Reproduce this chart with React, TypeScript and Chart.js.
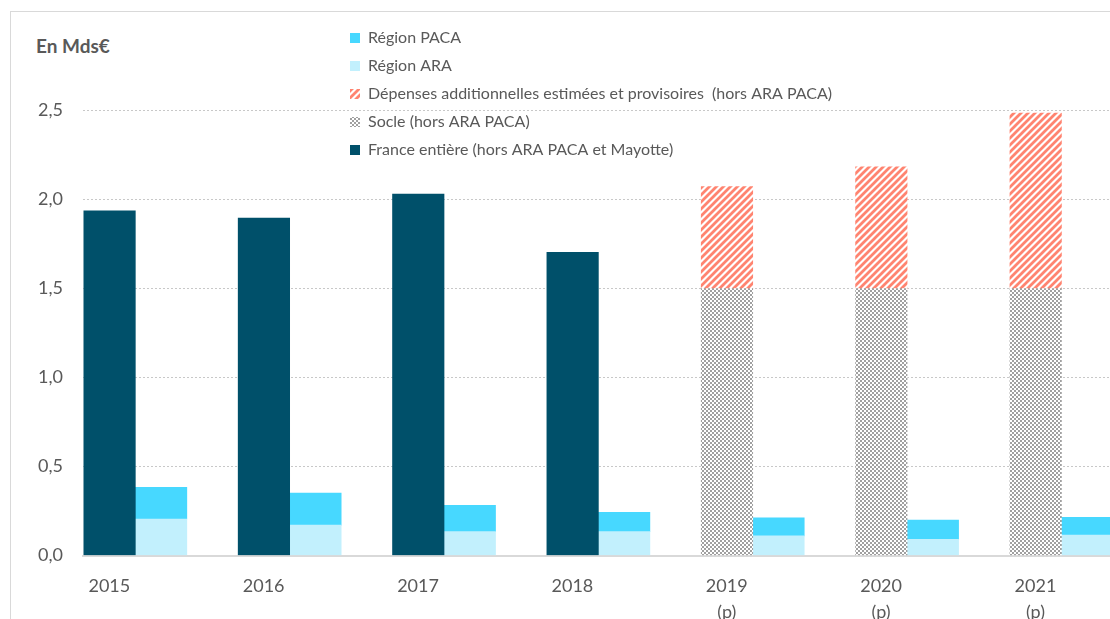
import React, { useEffect, useRef } from 'react';
import { Chart, registerables } from 'chart.js';

Chart.register(...registerables);

const years = ['2015', '2016', '2017', '2018', '2019', '2020', '2021'];
const yearNotes = ['', '', '', '', '(p)', '(p)', '(p)'];
const franceEntiere = [1.937, 1.896, 2.031, 1.703, null, null, null];
const socle = [null, null, null, null, 1.5, 1.5, 1.5];
const depensesAdditionnelles = [null, null, null, null, 0.572, 0.683, 0.986];
const regionARA = [0.205, 0.171, 0.134, 0.134, 0.11, 0.091, 0.115];
const regionPACA = [0.178, 0.18, 0.148, 0.109, 0.102, 0.108, 0.1];
const yTickValues = [0, 0.5, 1, 1.5, 2, 2.5];

const TEXT = '#595959';
const FONT = 'Lato, "Open Sans", sans-serif';

function stripePattern(): CanvasPattern | string {
  const s = 7;
  const c = document.createElement('canvas');
  c.width = s;
  c.height = s;
  const ctx = c.getContext('2d');
  if (!ctx) return '#ff8c7a';
  ctx.fillStyle = '#ffffff';
  ctx.fillRect(0, 0, s, s);
  ctx.strokeStyle = '#ff8470';
  ctx.lineWidth = 2.8;
  ctx.beginPath();
  ctx.moveTo(-2, 2);
  ctx.lineTo(2, -2);
  ctx.moveTo(0, s);
  ctx.lineTo(s, 0);
  ctx.moveTo(s - 2, s + 2);
  ctx.lineTo(s + 2, s - 2);
  ctx.stroke();
  return ctx.createPattern(c, 'repeat') || '#ff8c7a';
}

function checkerPattern(): CanvasPattern | string {
  const s = 4;
  const c = document.createElement('canvas');
  c.width = s;
  c.height = s;
  const ctx = c.getContext('2d');
  if (!ctx) return '#bbbbbb';
  ctx.fillStyle = '#ffffff';
  ctx.fillRect(0, 0, s, s);
  ctx.fillStyle = '#a0a0a0';
  ctx.fillRect(0, 0, 2, 2);
  ctx.fillRect(2, 2, 2, 2);
  return ctx.createPattern(c, 'repeat') || '#bbbbbb';
}

const toPoints = (arr: (number | null)[]) => arr.map((v, i) => ({ x: i, y: v }));

const legendPlacer = {
  id: 'legendPlacer',
  afterLayout(chart: any) {
    const lg = chart.legend;
    if (!lg) return;
    lg.left = 338;
    lg.top = 18;
    lg.right = 338 + 700;
    lg.bottom = 18 + 300;
    lg.width = 700;
    lg.height = 300;
  },
};

export default function App() {
  const ref = useRef<HTMLCanvasElement | null>(null);

  useEffect(() => {
    if (!ref.current) return;
    const stripes = stripePattern();
    const checker = checkerPattern();
    const chart = new Chart(ref.current, {
      type: 'bar',
      data: {
        datasets: [
          {
            label: 'France entière (hors ARA PACA et Mayotte)',
            data: toPoints(franceEntiere) as any,
            backgroundColor: '#00506a',
            stack: 'a',
          },
          {
            label: 'Socle (hors ARA PACA)',
            data: toPoints(socle) as any,
            backgroundColor: checker as any,
            stack: 'a',
          },
          {
            label: 'Dépenses additionnelles estimées et provisoires  (hors ARA PACA)',
            data: toPoints(depensesAdditionnelles) as any,
            backgroundColor: stripes as any,
            stack: 'a',
          },
          {
            label: 'Région ARA',
            data: toPoints(regionARA) as any,
            backgroundColor: '#c2f0fd',
            stack: 'b',
          },
          {
            label: 'Région PACA',
            data: toPoints(regionPACA) as any,
            backgroundColor: '#47d8ff',
            stack: 'b',
          },
        ],
      },
      options: {
        responsive: false,
        animation: false,
        devicePixelRatio: 1,
        datasets: {
          bar: { barThickness: 51.5, borderWidth: 0 },
        } as any,
        layout: { padding: { left: 0, top: 110.5, right: 40, bottom: 0 } },
        scales: {
          x: {
            type: 'linear',
            offset: false,
            min: -0.339,
            max: 6.509,
            afterBuildTicks: (axis: any) => {
              axis.ticks = years.map((_, i) => ({ value: i }));
            },
            afterFit: (s: any) => {
              s.height = 104.5;
            },
            ticks: {
              autoSkip: false,
              maxRotation: 0,
              labelOffset: -26,
              padding: 18,
              color: TEXT,
              font: { family: FONT, size: 18, lineHeight: 1.45 },
              callback: (v: any) => {
                const i = Math.round(Number(v));
                return yearNotes[i] ? [years[i], yearNotes[i]] : years[i];
              },
            },
            grid: { display: false, drawTicks: false, offset: false },
            border: { display: true, color: '#d9d9d9', width: 2 },
          },
          y: {
            min: 0,
            max: 2.5,
            stacked: true,
            afterBuildTicks: (axis: any) => {
              axis.ticks = yTickValues.map((v) => ({ value: v }));
            },
            afterFit: (s: any) => {
              s.width = 83;
            },
            ticks: {
              padding: 20,
              color: TEXT,
              font: { family: FONT, size: 18 },
              callback: (v: any) => Number(v).toFixed(1).replace('.', ','),
            },
            grid: { color: '#c8c8c8', lineWidth: 1, drawTicks: false },
            border: { display: false, dash: [2, 2] },
          },
        },
        plugins: {
          legend: {
            position: 'chartArea',
            align: 'start',
            reverse: true,
            labels: {
              boxWidth: 10,
              boxHeight: 10,
              padding: 12,
              color: TEXT,
              font: { family: FONT, size: 16 },
            },
          },
          tooltip: { enabled: false },
          title: { display: false },
        },
      },
      plugins: [legendPlacer],
    });
    return () => chart.destroy();
  }, []);

  return (
    <div
      style={{
        position: 'fixed',
        left: 0,
        top: 0,
        width: '100vw',
        height: '100vh',
        overflow: 'hidden',
        background: '#ffffff',
      }}
    >
      <div
        style={{
          position: 'absolute',
          left: 10,
          top: 11,
          width: 1300,
          height: 800,
          border: '1px solid #d9d9d9',
          boxSizing: 'border-box',
        }}
      />
      <div
        style={{
          position: 'absolute',
          left: 36,
          top: 35,
          fontFamily: FONT,
          fontWeight: 700,
          fontSize: 19,
          lineHeight: '22px',
          color: TEXT,
          whiteSpace: 'nowrap',
        }}
      >
        En Mds€
      </div>
      <canvas
        ref={ref}
        width={1180}
        height={660}
        style={{ position: 'absolute', left: 0, top: 0, width: 1180, height: 660 }}
      />
    </div>
  );
}
